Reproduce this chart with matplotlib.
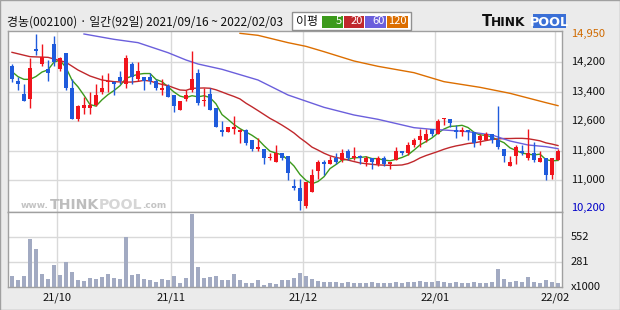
import matplotlib
matplotlib.use('Agg')
import matplotlib.pyplot as plt
import numpy as np
import pandas as pd
from matplotlib.patches import Rectangle
from matplotlib.transforms import blended_transform_factory

plt.rcParams['font.family'] = ['Noto Sans CJK KR', 'DejaVu Sans']

# ---------------- data ----------------
title = '경농(002100) · 일간(92일) 2021/09/16 ~ 2022/02/03'

opens = [14100, 13700, 13350, 13200, 14550, 14150, 14000, 14700, 14000, 14450,
         13500, 12650, 12950, 12950, 13050, 13400, 13650, 13650, 13800, 13600,
         14150, 13750, 13800, 13800, 13700, 13450, 13550, 13300, 12900, 13200,
         13450, 13900, 13150, 13350, 12950, 12350, 12300, 12400, 12300, 12350,
         12100, 11850, 11850, 11600, 11500, 11750, 11650, 10850, 10800, 10300,
         10700, 11250, 11500, 11450, 11600, 11550, 11800, 11600, 11650, 11500,
         11600, 11450, 11600, 11450, 11550, 11800, 11750, 11950, 12100, 12100,
         12400, 12250, 12650, 12650, 12350, 12300, 12350, 12300, 12100, 12100,
         12250, 12100, 11850, 11400, 11650, 11800, 11600, 11750, 11500, 11600,
         11150, 11550]
highs = [14150, 13800, 13600, 14300, 14950, 14700, 14250, 14900, 14350, 14450,
         13750, 13050, 13250, 13400, 13600, 13850, 13900, 13700, 13950, 14400,
         14200, 14200, 13800, 13900, 13750, 13750, 13600, 13300, 13150, 13450,
         14500, 14000, 13500, 13500, 12950, 12600, 12450, 12750, 12400, 12400,
         12100, 12150, 11850, 11750, 11950, 11750, 11650, 11050, 11050, 10950,
         11300, 11550, 11550, 11650, 11750, 11850, 11850, 11900, 11700, 11650,
         11600, 11650, 11650, 11500, 11900, 11800, 12050, 12150, 12400, 12400,
         12400, 12650, 12700, 12650, 12500, 12450, 12350, 12300, 12250, 12300,
         12250, 13000, 11850, 11650, 11950, 11950, 12400, 12050, 11800, 11600,
         11600, 11850]
lows = [13650, 13450, 13150, 12950, 14400, 14100, 13700, 14100, 13950, 13450,
        12650, 12600, 12800, 12800, 13000, 13350, 13400, 13300, 13600, 13500,
        13600, 13700, 13450, 13600, 13450, 13300, 13250, 12850, 12900, 13150,
        13400, 13050, 13000, 12900, 12450, 12200, 12300, 12250, 12000, 11950,
        11800, 11800, 11450, 11550, 11500, 11550, 11000, 10750, 10200, 10250,
        10700, 11050, 11150, 11450, 11450, 11500, 11550, 11550, 11450, 11400,
        11300, 11400, 11400, 11300, 11550, 11700, 11700, 11900, 11900, 12050,
        12200, 12250, 12500, 12450, 12150, 12200, 12100, 11900, 11950, 12100,
        12000, 11850, 11500, 11400, 11450, 11700, 11550, 11500, 11500, 11000,
        11050, 11550]
closes = [13750, 13600, 13150, 14050, 14500, 14350, 13900, 14200, 14300, 13500,
          12650, 13000, 13050, 13050, 13300, 13500, 13700, 13600, 13700, 14300,
          13800, 13950, 13700, 13700, 13500, 13500, 13250, 13000, 13150, 13300,
          13750, 13100, 13150, 12900, 12450, 12300, 12450, 12450, 12350, 12000,
          11850, 11900, 11600, 11600, 11750, 11600, 11200, 10800, 10450, 10950,
          11150, 11500, 11450, 11550, 11500, 11750, 11600, 11650, 11600, 11600,
          11500, 11600, 11450, 11500, 11800, 11750, 11950, 12100, 12200, 12250,
          12250, 12600, 12650, 12550, 12300, 12350, 12300, 12000, 12200, 12250,
          12100, 11900, 11650, 11500, 11900, 11750, 11750, 11550, 11600, 11150,
          11600, 11800]
# volume in thousands of shares
volumes = [125, 81, 125, 533, 423, 147, 92, 246, 136, 272,
           169, 81, 70, 103, 92, 114, 147, 103, 92, 555,
           136, 147, 92, 81, 59, 92, 81, 125, 48, 103,
           810, 224, 103, 114, 125, 81, 81, 147, 74, 48,
           48, 81, 26, 48, 37, 81, 81, 103, 150, 120,
           90, 70, 60, 50, 60, 45, 50, 40, 45, 40,
           50, 40, 45, 40, 60, 40, 55, 60, 70, 60,
           50, 70, 60, 45, 50, 40, 45, 60, 40, 45,
           60, 200, 90, 60, 70, 50, 110, 60, 40, 80,
           60, 40]

# moving averages read off the chart where the visible data cannot give them
ma5_lead = [13940, 13805, 13733, 13733]
ma20_lead_idx = [0, 3, 6, 9, 11, 13, 15, 17]
ma20_lead_val = [14463, 14346, 14328, 14193, 13985, 13823, 13715, 13670]
ma60_idx = [12, 17, 21, 26, 29, 31, 35, 41, 46, 52, 57, 61, 67, 70, 72, 76, 80, 83, 86, 89, 91]
ma60_val = [14959, 14815, 14725, 14454, 14256, 14148, 14004, 13715, 13310, 12976,
            12769, 12652, 12426, 12381, 12363, 12318, 12228, 12066, 11958, 11912, 11858]
ma120_idx = [38, 41, 46, 49, 52, 57, 61, 67, 72, 78, 83, 89, 91]
ma120_val = [14977, 14923, 14725, 14625, 14481, 14229, 14085, 13913, 13670, 13517,
             13355, 13102, 13021]

month_labels = ['21/10', '21/11', '21/12', '22/01', '22/02']
month_start_idx = [8, 27, 49, 71, 91]
price_ticks = [14200, 13400, 12600, 11800, 11000]
price_max = 14950
price_min = 10200
vol_ticks = [552, 281]
legend_labels = ['5', '20', '60', '120']

# ---------------- style ----------------
RED = '#f0141c'
BLUE = '#1f5bdc'
MA_COLORS = ['#3c9a1c', '#c0282c', '#6b5fdc', '#dc6e00']
GRID = '#d9d9d9'
SPINE = '#a0a0a0'

W, H = 620, 310
def fx(x):
    return x / W
def fy(y):
    return 1 - y / H

fig = plt.figure(figsize=(W / 100, H / 100), dpi=100)
fig.patch.set_facecolor('#ebebeb')

L, R = 8, 562
ax = fig.add_axes([fx(L), fy(212), (R - L) / W, (212 - 31) / H])
axv = fig.add_axes([fx(L), fy(287), (R - L) / W, (287 - 212) / H])

n = len(closes)
x = np.arange(n)
o = np.array(opens, float)
c = np.array(closes, float)
h = np.array(highs, float)
lo = np.array(lows, float)
prev = np.concatenate([[c[0]], c[:-1]])
up = (c > o) | ((c == o) & (c >= prev))
cols = np.where(up, RED, BLUE)

for a in (ax, axv):
    a.set_facecolor('white')
    a.set_xlim(-0.667, n - 0.333)
    a.set_xticks([])
    a.set_yticks([])
    for s in a.spines.values():
        s.set_color(SPINE)
        s.set_linewidth(1)
    for m in month_start_idx:
        a.axvline(m - 0.5, color=GRID, lw=1, zorder=0)

ax.set_ylim(10146, 15040)
for p in price_ticks:
    ax.axhline(p, color=GRID, lw=1, zorder=0)

# watermark
fig.text(fx(21), fy(208), 'www.', fontsize=6.5, color='#c4c4c4', fontweight='bold',
         family='DejaVu Sans', va='baseline', ha='left')
fig.text(fx(50), fy(209), 'THINK', fontsize=10.2, color='#bdbdbd', fontweight='bold',
         family='DejaVu Sans', va='baseline', ha='left')
fig.text(fx(99), fy(209), 'POOL', fontsize=10.2, color='#d6d6d6', fontweight='bold',
         family='DejaVu Sans', va='baseline', ha='left')
fig.text(fx(142), fy(208), '.com', fontsize=6.5, color='#c4c4c4', fontweight='bold',
         family='DejaVu Sans', va='baseline', ha='left')

# moving averages
cs = pd.Series(c)
ma5 = cs.rolling(5).mean().to_numpy()
ma5[:4] = ma5_lead
ma20 = cs.rolling(20).mean()
ax.plot(x, ma5, color=MA_COLORS[0], lw=1, zorder=2)
ax.plot(list(ma20_lead_idx) + list(range(19, n)),
        list(ma20_lead_val) + list(ma20.iloc[19:]), color=MA_COLORS[1], lw=1, zorder=2)
ax.plot(ma60_idx, ma60_val, color=MA_COLORS[2], lw=1, zorder=2)
ax.plot(ma120_idx, ma120_val, color=MA_COLORS[3], lw=1, zorder=2)

# candles
ax.vlines(x, lo, h, colors=cols, lw=1, zorder=3)
body_bottom = np.minimum(o, c)
body_h = np.maximum(np.abs(c - o), 35)
ax.bar(x, body_h, bottom=body_bottom, width=0.8, color=cols, lw=0, zorder=4)

# price labels
tr = blended_transform_factory(ax.transAxes, ax.transData)
lx = 1 + 9 / (R - L)
for p in price_ticks:
    ax.text(lx, p, f'{p:,}', transform=tr, fontsize=8, color='#111111',
            va='center', ha='left', clip_on=False)
ax.text(lx, price_max, f'{price_max:,}', transform=tr, fontsize=8, color='#d06a00',
        va='center', ha='left', clip_on=False)
ax.text(lx, price_min + 60, f'{price_min:,}', transform=tr, fontsize=8, color='#0000c8',
        va='center', ha='left', clip_on=False)

# volume
axv.set_ylim(0, 828)
for v in vol_ticks:
    axv.axhline(v, color=GRID, lw=1, zorder=0)
axv.bar(x, volumes, width=0.8, color='#a2aac2', lw=0, zorder=2)
trv = blended_transform_factory(axv.transAxes, axv.transData)
for v in vol_ticks:
    axv.text(lx, v, str(v), transform=trv, fontsize=8, color='#111111',
             va='center', ha='left', clip_on=False)
axv.text(lx, 5, 'x1000', transform=trv, fontsize=8, color='#111111',
         va='center', ha='left', clip_on=False)

# month labels
trx = blended_transform_factory(axv.transData, fig.transFigure)
for m, lab in zip(month_start_idx, month_labels):
    axv.text(m - 0.5, fy(298), lab, transform=trx, fontsize=8, color='#111111',
             va='center', ha='center', clip_on=False)

# title
fig.text(fx(7), fy(22), title, fontsize=8.6, color='#111111', va='center', ha='left')

# legend box
fig.patches.append(Rectangle((fx(292), fy(30)), (411 - 292) / W, 18 / H,
                             transform=fig.transFigure, facecolor='white',
                             edgecolor='#909090', lw=1))
fig.text(fx(296), fy(21.5), '이평', fontsize=8.6, color='#111111', va='center', ha='left')
box_x = [322, 343.5, 365, 387]
box_w = [21, 21, 21, 21]
for bx, bw, col, lab in zip(box_x, box_w, MA_COLORS, legend_labels):
    fig.patches.append(Rectangle((fx(bx), fy(27.5)), bw / W, 11.5 / H,
                                 transform=fig.transFigure, facecolor=col, lw=0))
    fig.text(fx(bx + bw - 1.5), fy(21.5), lab, fontsize=8, color='white',
             va='center', ha='right')

# top logo
fig.text(fx(482), fy(26.5), 'T', fontsize=10.5, color='#111111', fontweight='bold',
         family='DejaVu Sans', va='baseline', ha='left')
fig.text(fx(491), fy(26.5), 'HINK', fontsize=8.8, color='#111111', fontweight='bold',
         family='DejaVu Sans', va='baseline', ha='left')
fig.patches.append(Rectangle((fx(533), fy(28)), 33 / W, 14 / H,
                             transform=fig.transFigure, facecolor='#3a6fd6', lw=0))
fig.text(fx(549.5), fy(26.5), 'POOL', fontsize=9.2, color='white', fontweight='bold',
         family='DejaVu Sans', va='baseline', ha='center')

# outer frame
fig.patches.append(Rectangle((0.0008, 0.0016), 0.9984, 0.9968, transform=fig.transFigure,
                             facecolor='none', edgecolor='#a0a0a0', lw=1))

fig.savefig('out.png', dpi=100, facecolor=fig.get_facecolor())
